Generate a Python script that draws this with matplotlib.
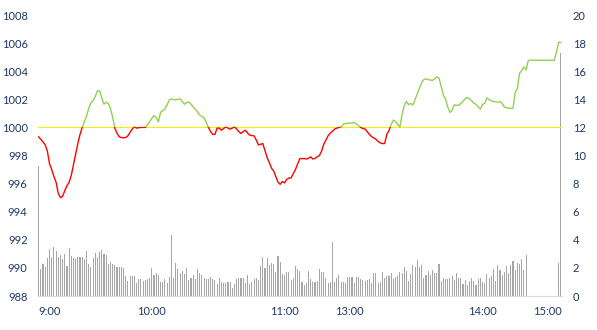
import numpy as np
import matplotlib.pyplot as plt
from matplotlib.patches import Rectangle

# intraday index value, one point per minute
price = [
    999.33, 999.15, 998.97, 998.75, 998.3, 997.4, 997.0, 996.5, 996.1, 995.3,
    995.0, 995.1, 995.5, 995.85, 996.1, 996.6, 997.35, 998.1, 998.85, 999.5,
    1000.0, 1000.4, 1000.8, 1001.35, 1001.75, 1001.9, 1002.2, 1002.6, 1002.6, 1002.1,
    1001.65, 1001.8, 1001.7, 1001.36, 1000.7, 999.93, 999.6, 999.33, 999.28, 999.26,
    999.28, 999.4, 999.65, 999.88, 1000.05, 999.95, 999.98, 1000.0, 1000.0, 1000.0,
    1000.2, 1000.4, 1000.65, 1000.84, 1000.7, 1000.4, 1001.07, 1001.2, 1001.3, 1001.6,
    1001.95, 1002.03, 1001.98, 1001.96, 1002.0, 1002.03, 1001.85, 1001.65, 1001.78, 1001.8,
    1001.65, 1001.45, 1001.3, 1001.1, 1000.88, 1000.78, 1000.68, 1000.35, 1000.0, 999.7,
    999.5, 999.5, 999.95, 999.95, 999.8, 999.92, 1000.05, 999.95, 999.88, 999.95,
    1000.05, 999.88, 999.7, 999.57, 999.7, 999.8, 999.6, 999.45, 999.42, 999.4,
    999.1, 998.75, 998.8, 998.85, 998.35, 997.85, 997.5, 997.1, 996.9, 996.5,
    996.1, 995.95, 996.15, 996.05, 996.3, 996.4, 996.4, 996.7, 997.0, 997.4,
    997.78, 997.78, 997.78, 997.75, 997.8, 997.9, 997.75, 997.8, 997.9, 998.0,
    998.3, 998.8, 999.1, 999.4, 999.6, 999.72, 999.88, 999.95, 1000.0, 1000.05,
    1000.22, 1000.29, 1000.29, 1000.3, 1000.32, 1000.34, 1000.25, 1000.12, 1000.0, 999.92,
    999.88, 999.7, 999.5, 999.35, 999.25, 999.16, 999.0, 998.9, 998.85, 998.85,
    999.5, 999.78, 1000.2, 1000.52, 1000.42, 1000.2, 1000.05, 1000.9, 1001.55, 1001.84,
    1001.62, 1001.7, 1001.6, 1002.0, 1002.4, 1002.8, 1003.2, 1003.4, 1003.46, 1003.4,
    1003.37, 1003.35, 1003.45, 1003.6, 1003.5, 1002.9, 1002.3, 1002.0, 1001.45, 1001.07,
    1001.2, 1001.6, 1001.58, 1001.56, 1001.7, 1001.85, 1002.05, 1002.13, 1002.05, 1001.9,
    1001.72, 1001.65, 1001.45, 1001.3, 1001.65, 1001.7, 1002.1, 1001.98, 1001.9, 1001.84,
    1001.82, 1001.8, 1001.84, 1001.72, 1001.45, 1001.4, 1001.36, 1001.36, 1001.36, 1002.5,
    1002.75, 1003.85, 1004.04, 1004.3, 1004.1, 1004.75, 1004.8, 1004.78, 1004.78, 1004.78,
    1004.78, 1004.78, 1004.78, 1004.78, 1004.78, 1004.78, 1004.78, 1004.78, 1005.4, 1006.05,
    1006.05,
]

# volume per minute (right axis)
volume = [
    9.25, 1.9, 2.25, 2.06, 2.68, 3.32, 2.78, 3.51, 3.18, 2.78,
    2.89, 2.61, 2.97, 2.14, 3.39, 2.82, 2.68, 2.61, 2.75, 2.75,
    2.8, 2.61, 3.18, 2.3, 2.06, 2.68, 3.04, 2.78, 3.1, 3.25,
    3.01, 2.89, 2.25, 2.4, 2.25, 2.18, 2.09, 2.06, 2.06, 1.97,
    1.42, 1.04, 1.4, 1.4, 1.4, 0.95,
    1.19, 1.23, 1.07, 1.12, 1.23, 1.3, 2.02, 1.47, 1.61, 1.47,
    1.02, 1.02, 1.19, 0.95, 1.38, 4.32, 1.3, 2.37, 1.9, 1.61,
    1.76, 1.54, 2.02, 1.12, 1.3, 1.47, 1.23, 1.95, 1.66, 1.47,
    1.3, 1.23, 1.23, 1.38, 1.23, 1.12, 0.83, 1.3, 1.0, 0.9,
    0.9, 1.02, 1.02, 0.59, 0.83, 1.23, 1.3, 1.3, 1.3, 0.9,
    1.47, 0.83, 1.0, 1.19, 1.26, 1.12, 2.14, 2.75, 1.97, 2.68,
    2.18, 2.33, 2.28, 1.71, 2.85, 2.42, 1.54, 1.47, 1.71, 1.71,
    1.12, 1.26, 2.14, 1.9, 1.78, 1.0, 0.76, 0.9, 1.78, 1.19,
    1.0, 1.0, 1.07, 1.9, 1.71, 1.71, 1.26, 0.9, 1.0, 3.84,
    1.0, 1.26, 1.47, 1.0, 1.0, 0.9, 1.35, 1.35,
    1.38, 0.9, 1.38, 1.38, 1.23, 1.12, 1.07, 1.12, 1.19, 0.9,
    1.61, 1.61, 0.9, 1.0, 1.71, 1.3, 1.42, 1.4, 1.61, 1.19,
    1.35, 1.4, 1.71, 1.61, 2.04, 1.76, 1.04, 1.54, 2.18, 2.09,
    2.54, 2.04, 2.18, 1.3, 1.47, 1.76, 1.47, 1.83, 1.61, 1.61,
    2.25, 1.04, 1.3, 1.19, 1.19, 1.3, 1.4,
    1.14, 1.61, 1.3, 1.3, 0.83, 1.12, 0.78, 1.04, 1.26, 1.07,
    0.78, 1.19, 1.26, 0.97, 0.9, 1.54, 1.26, 1.4, 1.9, 1.04,
    2.18, 1.83, 1.47, 1.68, 2.11, 1.61, 2.18, 2.47, 1.83, 2.33,
    2.25, 2.61, 1.83, 2.89,
    0, 0, 0, 0, 0, 0, 0, 0, 0, 0, 0, 0, 0, 0,
    2.33, 17.3,
]

tick_pos = [5, 52, 113, 143, 204, 234]
tick_labels = ['9:00', '10:00', '11:00', '13:00', '14:00', '15:00']
base = 1000

x = np.arange(len(price))
label_color = '#1F3864'
plt.rcParams['font.family'] = ['Lato', 'DejaVu Sans']

fig = plt.figure(figsize=(5.97, 3.30), dpi=100)
ax1 = fig.add_axes([0.0637, 0.103, 0.878, 0.8515])
ax2 = ax1.twinx()

# volume bars on the right axis, drawn behind the price line
ax2.bar(x, volume, width=0.5, color='#A6A6A6', linewidth=0)
ax2.set_ylim(0, 20)
ax2.set_yticks(range(0, 21, 2))
ax1.set_zorder(ax2.get_zorder() + 1)
ax1.patch.set_visible(False)

ax1.axhline(base, color='#F2F200', lw=0.8, zorder=1)

# same line twice, clipped above / below the baseline
up, = ax1.plot(x, price, color='#92D050', lw=1.0, zorder=2)
dn, = ax1.plot(x, price, color='#FF0000', lw=1.0, zorder=2)
up.set_clip_path(Rectangle((-10, base), 300, 50, transform=ax1.transData))
dn.set_clip_path(Rectangle((-10, base - 50), 300, 50, transform=ax1.transData))

ax1.set_ylim(988, 1008)
ax1.set_yticks(range(988, 1009, 2))
ax1.set_xlim(-0.3, 240.6)
ax1.set_xticks(tick_pos)
ax1.set_xticklabels(tick_labels)

for ax in (ax1, ax2):
    for s in ax.spines.values():
        s.set_visible(False)
    ax.tick_params(length=0, labelsize=8, labelcolor=label_color, pad=7.5)
ax1.spines['bottom'].set_visible(True)
ax1.spines['bottom'].set_color('#D9D9D9')
ax1.tick_params(axis='x', pad=7)

plt.savefig('out.png', dpi=100)
